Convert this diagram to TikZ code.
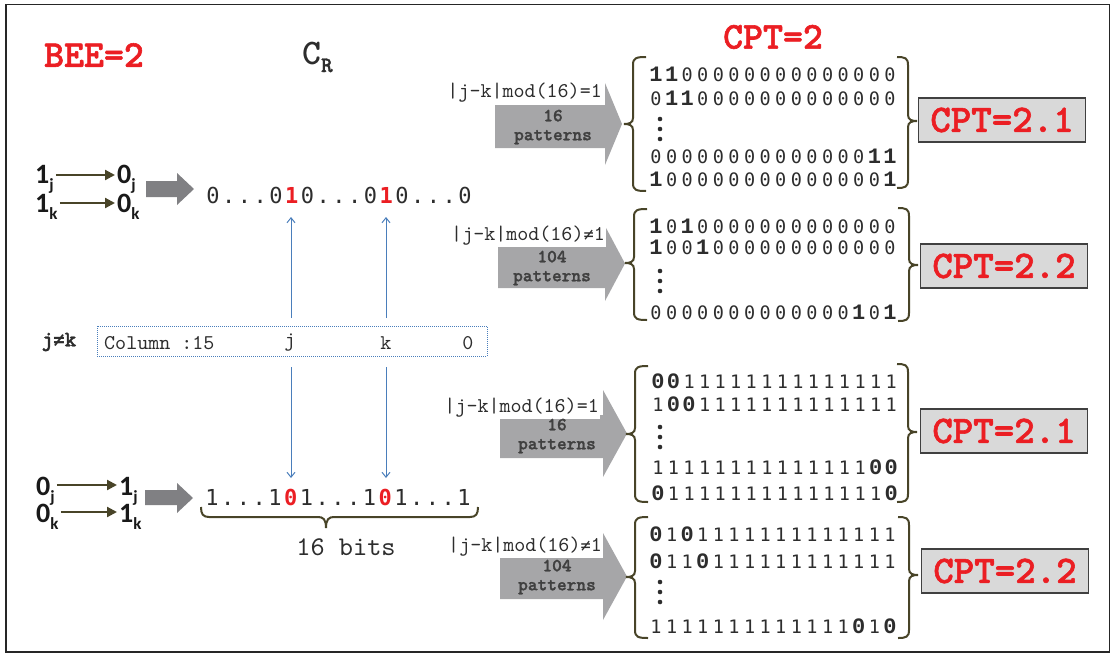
\documentclass[tikz,border=0pt]{standalone}
\usepackage{fontspec}
\usetikzlibrary{arrows.meta}
\newfontfamily\cour{lmmono10-regular.otf}
\newfontfamily\courbf{lmmonolt10-bold.otf}[FakeBold=1.5]
\newfontfamily\courmd{lmmonolt10-bold.otf}
\newfontfamily\lmono{Liberation Mono}
\newfontfamily\dmono{DejaVu Sans Mono}
\newfontfamily\carl{Carlito}
\definecolor{cred}{RGB}{235,30,35}
\definecolor{dgray}{RGB}{45,45,45}
\definecolor{olv}{RGB}{72,68,40}
\definecolor{bigg}{RGB}{128,128,131}
\definecolor{patg}{RGB}{166,166,168}
\definecolor{boxg}{RGB}{217,217,217}
\definecolor{blu}{RGB}{74,126,187}
\newlength\pw
\def\bd#1{{\lmono\bfseries\fontsize{22}{22}\selectfont #1}}
\def\rd#1{{\dmono\bfseries\color{cred}#1}}
\def\patchar#1{\makebox[\pw]{\ifx#1a\bd{0}\else\ifx#1b\bd{1}\else\ifx#1r\rd{1}\else\ifx#1z\rd{0}\else#1\fi\fi\fi\fi}}
\def\patloop#1{\ifx#1\relax\else\patchar#1\expandafter\patloop\fi}
\newcommand\pat[2]{\setlength\pw{#1}\patloop#2\relax}
\newcommand\sub[1]{\raisebox{-7pt}{\fontsize{17}{17}\selectfont #1}}
\newcommand\lbr[4]{% x, top, bottom, mid
  \draw[bracestyle] ({#1+13},#2) .. controls ({#1+3},#2) and (#1,{#2+1}) .. (#1,{#2+8})
    -- (#1,{#4-6}) .. controls (#1,{#4-1}) and ({#1-4},#4) .. ({#1-9},#4)
    .. controls ({#1-4},#4) and (#1,{#4+1}) .. (#1,{#4+6})
    -- (#1,{#3-8}) .. controls (#1,{#3-1}) and ({#1+3},#3) .. ({#1+13},#3);}
\newcommand\rbr[4]{% x, top, bottom, mid
  \draw[bracestyle] ({#1-11},#2) .. controls ({#1-3},#2) and (#1,{#2+1}) .. (#1,{#2+8})
    -- (#1,{#4-6}) .. controls (#1,{#4-1}) and ({#1+4},#4) .. ({#1+9},#4)
    .. controls ({#1+4},#4) and (#1,{#4+1}) .. (#1,{#4+6})
    -- (#1,{#3-8}) .. controls (#1,{#3-1}) and ({#1-3},#3) .. ({#1-11},#3);}
\newcommand\patarrow[7]{% xs, xh, xt, bodytop, bodybot, headtop, headbot
  \fill[patg] (#1,#4) -- (#2,#4) -- (#2,#6) -- (#3,{(#6+#7)/2}) -- (#2,#7) -- (#2,#5) -- (#1,#5) -- cycle;}
\newcommand\nq{{\dmono\fontsize{17}{17}\selectfont ≠}}
\newcommand\nqb{{\dmono\bfseries\fontsize{19}{19}\selectfont ≠}}
\begin{document}
\begin{tikzpicture}[x=1pt,y=-1pt,
  redtitle/.style={inner sep=0, text=cred, font={\courbf\fontsize{38}{38}\selectfont}},
  patrow/.style={anchor=base west, inner sep=0, text=dgray, font={\dmono\fontsize{18.5}{18.5}\selectfont}},
  bitrow/.style={anchor=base west, inner sep=0, text=dgray, font={\dmono\fontsize{22}{22}\selectfont}},
  lft/.style={anchor=base west, inner sep=2pt, text=black!90, font={\carl\bfseries\fontsize{28}{28}\selectfont}},
  olvarr/.style={draw=olv, line width=2.2pt, -{Triangle[length=10pt,width=10pt]}},
  bluarr/.style={draw=blu, line width=1pt, -{Straight Barb[length=5pt,width=8pt]}},
  bracestyle/.style={draw=olv, line width=2pt},
  cond/.style={anchor=east, fill=white, inner sep=1pt, text=dgray, font={\cour\fontsize{21}{21}\selectfont}},
  ptxt/.style={align=center, inner sep=0, text=black!75, font={\courbf\fontsize{18.5}{19}\selectfont}},
  cptbox/.style={draw=black!75, line width=1.3pt, fill=boxg, minimum width=167pt, minimum height=44pt, inner sep=0, text=cred, font={\courbf\fontsize{39}{39}\selectfont}},
  coltxt/.style={inner sep=0, text=dgray, font={\cour\fontsize{21}{21}\selectfont}}
]
\useasboundingbox (0,0) rectangle (1113,656);
\draw[line width=1.5pt, draw=black!85] (6,4.5) rectangle (1109.5,652);

% titles
\node[redtitle] (bee) at (94,55) {BEE=2};
\node[redtitle] (cpt) at (773,37) {CPT=2};
\node[anchor=base west, inner sep=0, text=dgray] (cr) at (302,64) {\courmd\fontsize{36}{36}\selectfont C\raisebox{-8pt}{\courbf\fontsize{22}{22}\selectfont R}};

% left transitions (top)
\node[lft] (a1) at (33,183) {1\sub{j}};
\node[lft] (b1) at (115,183) {0\sub{j}};
\node[lft] (a2) at (33,212) {1\sub{k}};
\node[lft] (b2) at (115,212) {0\sub{k}};
\draw[olvarr] (a1.east |- 0,175) -- (b1.west |- 0,175);
\draw[olvarr] (a2.east |- 0,203) -- (b2.west |- 0,203);
\fill[bigg] (146,181) -- (177,181) -- (177,173) -- (194,189) -- (177,205) -- (177,197) -- (146,197) -- cycle;

% left transitions (bottom)
\node[lft] (c1) at (34,495) {0\sub{j}};
\node[lft] (d1) at (117,495) {1\sub{j}};
\node[lft] (c2) at (34,522) {0\sub{k}};
\node[lft] (d2) at (117,522) {1\sub{k}};
\draw[olvarr] (c1.east |- 0,485) -- (d1.west |- 0,485);
\draw[olvarr] (c2.east |- 0,512) -- (d2.west |- 0,512);
\fill[bigg] (145,490) -- (177,490) -- (177,483) -- (193,498) -- (177,513) -- (177,505) -- (145,505) -- cycle;

% bit rows
\node[bitrow] (topbits) at (205,203) {\pat{15.75pt}{0...0r0...0r0...0}};
\node[bitrow] (botbits) at (204,505) {\pat{15.75pt}{1...1z1...1z1...1}};

% column box
\node[draw=blu, line width=0.9pt, dash pattern=on 1pt off 1pt, minimum width=390pt, minimum height=30pt, inner sep=0] (colbox) at (292,341) {};
\node[inner sep=0, text=dgray, font={\courbf\fontsize{22}{22}\selectfont}] (jnk) at (59,342) {j\nqb k};
\node[coltxt, anchor=west] (colname) at (104,343) {Column :15};
\node[coltxt] (colj) at (290,343) {j};
\node[coltxt] (colk) at (386,343) {k};
\node[coltxt] (col0) at (468,343) {0};

\coordinate (jt) at (291,217);
\coordinate (kt) at (386,217);
\coordinate (jb) at (291,478);
\coordinate (kb) at (386,478);
\draw[bluarr] (colj) ++(1,-25) -- (jt);
\draw[bluarr] (colk) ++(0,-25) -- (kt);
\draw[bluarr] (colj) ++(1,24) -- (jb);
\draw[bluarr] (colk) ++(0,24) -- (kb);

% 16 bits brace
\draw[bracestyle] (201,507) .. controls (201,514) and (203,517) .. (209,517)
  -- (318,517) .. controls (323,517) and (326,519) .. (326,528)
  .. controls (326,519) and (329,517) .. (334,517)
  -- (470,517) .. controls (476,517) and (478,514) .. (478,507);
\node[inner sep=0, text=dgray, font={\cour\fontsize{27}{27}\selectfont}] (bits) at (346,547) {16 bits};

% ---- block 1
\patarrow{495}{605}{622}{105}{148}{83}{165}
\node[cond] (l1) at (603,93) {|j-k|mod(16)=1};
\node[ptxt] (t1) at (553,127) {16\\patterns};
\lbr{633}{57}{191}{124}
\rbr{908}{57}{188}{121}
\node[patrow] at (648,81.5) {\pat{15.6pt}{bb00000000000000}};
\node[patrow] at (648,105.5) {\pat{15.6pt}{0bb0000000000000}};
\foreach \yy in {119,129,139} \fill[dgray] (660,\yy) circle (2.3);
\node[patrow] at (648,163.5) {\pat{15.6pt}{00000000000000bb}};
\node[patrow] at (648,186.5) {\pat{15.6pt}{b00000000000000b}};
\node[cptbox] (cpt1) at (1002,120) {CPT=2.1};

% ---- block 2
\patarrow{498}{605}{625}{245}{288}{226}{301}
\node[cond] (l2) at (606,236) {|j-k|mod(16)\nq1};
\node[ptxt] (t2) at (552,268) {104\\patterns};
\lbr{634}{209}{320}{263}
\rbr{909}{208}{321}{265}
\node[patrow] at (648,233.5) {\pat{15.6pt}{b0b0000000000000}};
\node[patrow] at (648,254.5) {\pat{15.6pt}{b00b000000000000}};
\foreach \yy in {271,281,291} \fill[dgray] (660,\yy) circle (2.3);
\node[patrow] at (648,319.5) {\pat{15.6pt}{0000000000000b0b}};
\node[cptbox] (cpt2) at (1004,266) {CPT=2.2};

% ---- block 3
\patarrow{500}{603}{627}{415}{458}{390}{477}
\node[cond] (l3) at (600,408) {|j-k|mod(16)=1};
\node[ptxt] (t3) at (557,436) {16\\patterns};
\lbr{635}{366}{502}{434}
\rbr{908}{364}{502}{432}
\node[patrow] at (650,388.5) {\pat{15.55pt}{aa11111111111111}};
\node[patrow] at (650,411.5) {\pat{15.55pt}{1aa1111111111111}};
\foreach \yy in {427,437,447} \fill[dgray] (660,\yy) circle (2.3);
\node[patrow] at (650,474.5) {\pat{15.55pt}{11111111111111aa}};
\node[patrow] at (650,500) {\pat{15.55pt}{a11111111111111a}};
\node[cptbox] (cpt3) at (1004,431) {CPT=2.1};

% ---- block 4
\patarrow{500}{603}{627}{557}{599}{533}{620}
\node[cond] (l4) at (603,547) {|j-k|mod(16)\nq1};
\node[ptxt] (t4) at (557,577) {104\\patterns};
\lbr{635}{517}{638}{577}
\rbr{909}{517}{638}{575}
\node[patrow] at (648,541.5) {\pat{15.6pt}{a1a1111111111111}};
\node[patrow] at (648,568.5) {\pat{15.6pt}{a11a111111111111}};
\foreach \yy in {582,592,602} \fill[dgray] (660,\yy) circle (2.3);
\node[patrow] at (648,633.5) {\pat{15.6pt}{1111111111111a1a}};
\node[cptbox] (cpt4) at (1005,571) {CPT=2.2};
\end{tikzpicture}
\end{document}
